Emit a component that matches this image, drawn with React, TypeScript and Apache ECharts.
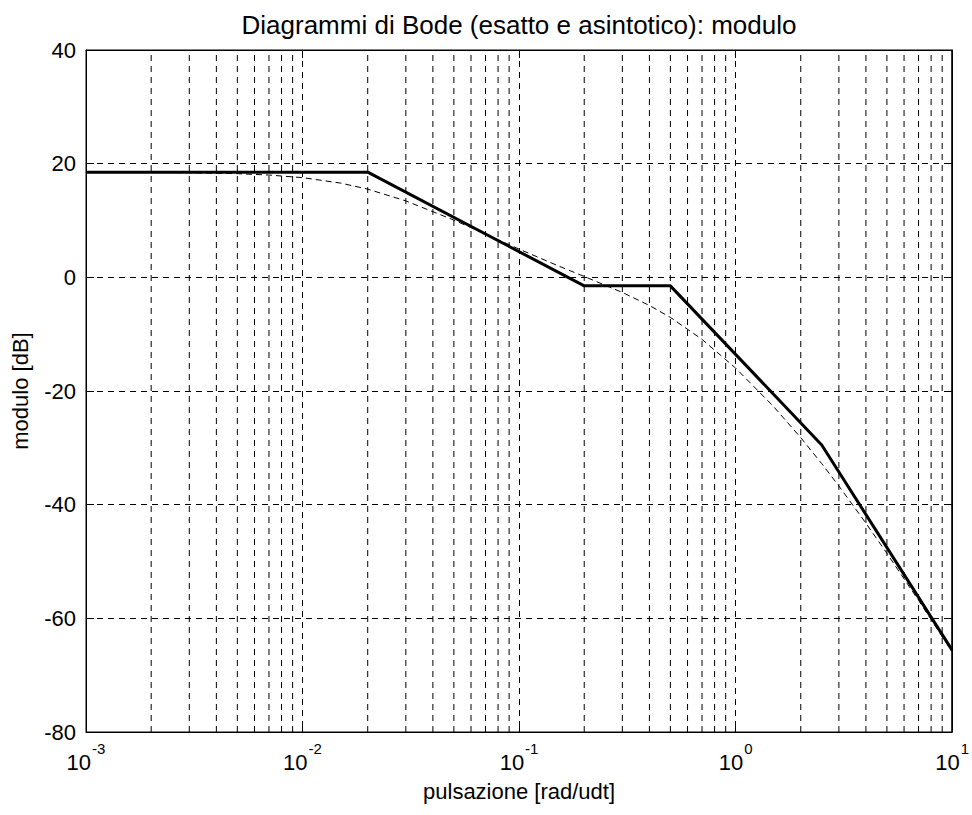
import React, { useEffect, useRef } from "react";
import * as echarts from "echarts";

const titleText = "Diagrammi di Bode (esatto e asintotico): modulo";
const xName = "pulsazione [rad/udt]";
const yName = "modulo [dB]";

const xTickExps = ["-3", "-2", "-1", "0", "1"];
const yTicks = [-80, -60, -40, -20, 0, 20, 40];
const xMin = 0.001;
const xMax = 10;

// asymptotic diagram (solid, thick)
const asymW = [0.001, 0.02, 0.2, 0.5, 2.5, 10];
const asymDb = [18.5, 18.5, -1.5, -1.5, -29.5, -65.6];

// exact diagram (dashed, thin)
const exactW = [0.001, 0.002, 0.003, 0.005, 0.007, 0.01, 0.015, 0.02, 0.03, 0.05, 0.07, 0.1, 0.15, 0.2, 0.3, 0.4, 0.5, 0.7, 1, 1.5, 2, 2.5, 3, 4, 5, 7, 10];
const exactDb = [18.49, 18.46, 18.4, 18.24, 18.0, 17.54, 16.58, 15.52, 13.45, 10.07, 7.61, 4.97, 2.1, 0.15, -2.66, -4.95, -7.05, -10.92, -15.96, -22.76, -28.21, -32.78, -36.72, -43.26, -48.57, -56.85, -65.87];

// minor vertical grid lines
const minorGridW = [
  0.002, 0.003, 0.004, 0.005, 0.006, 0.007, 0.008, 0.009,
  0.02, 0.03, 0.04, 0.05, 0.06, 0.07, 0.08, 0.09,
  0.2, 0.3, 0.4, 0.5, 0.6, 0.7, 0.8, 0.9,
  2, 3, 4, 5, 6, 7, 8, 9,
];

const FONT = "Liberation Sans";

export default function App() {
  const ref = useRef<HTMLDivElement>(null);
  useEffect(() => {
    if (!ref.current) return;
    const chart = echarts.init(ref.current, null, { renderer: "svg" });
    const dash = () => ({ type: [6, 5] as any, color: "#000", width: 1 });
    const expOf = (v: number) => {
      const e = Math.round(Math.log10(v));
      const idx = e + 3;
      return xTickExps[idx] !== undefined ? xTickExps[idx] : String(e);
    };
    const yMin = yTicks[0];
    const yMax = yTicks[yTicks.length - 1];
    const gridSeries = minorGridW.map((w) => ({
      type: "line",
      silent: true,
      data: [[w, yMin], [w, yMax]],
      showSymbol: false,
      symbol: "none",
      lineStyle: dash(),
      z: 1,
    }));
    const frameSeries = {
      type: "line",
      silent: true,
      clip: false,
      data: [[xMax, yMin], [xMax, yMax]],
      showSymbol: false,
      symbol: "none",
      lineStyle: { color: "#000", width: 1.5 },
      z: 5,
    };
    const axLine = { show: true, onZero: false, lineStyle: { color: "#000", width: 1 } };
    const axTick = { show: true, inside: true, length: 8, lineStyle: { color: "#000" } };
    chart.setOption({
      animation: false,
      backgroundColor: "#fff",
      title: {
        text: titleText,
        left: 514,
        top: 7,
        textAlign: "center",
        textStyle: { fontFamily: FONT, fontSize: 26, fontWeight: "normal", color: "#000" },
      },
      grid: {
        left: 86, top: 50, right: 18, bottom: 83, containLabel: false,
        show: true, borderColor: "#000", borderWidth: 1,
      },
      xAxis: [
        {
          type: "log",
          logBase: 10,
          min: xMin,
          max: xMax,
          position: "bottom",
          axisLine: axLine,
          axisTick: axTick,
          name: xName,
          nameLocation: "middle",
          nameGap: 48,
          nameTextStyle: { fontFamily: FONT, fontSize: 22, color: "#000" },
          splitLine: { show: true, lineStyle: dash() },
          axisLabel: {
            margin: 9,
            color: "#000",
            formatter: (v: number) => "{b|10}{s|" + expOf(v) + "}",
            rich: {
              b: { fontFamily: FONT, fontSize: 22, color: "#000", verticalAlign: "bottom", lineHeight: 32 },
              s: { fontFamily: FONT, fontSize: 15, color: "#000", verticalAlign: "top", lineHeight: 32, padding: [0, 0, 0, 1] },
            },
          },
        },
        {
          type: "log",
          logBase: 10,
          min: xMin,
          max: xMax,
          position: "top",
          axisLine: axLine,
          axisTick: axTick,
          axisLabel: { show: false },
          splitLine: { show: false },
        },
      ],
      yAxis: [
        {
          type: "value",
          min: yMin,
          max: yMax,
          interval: 20,
          position: "left",
          axisLine: axLine,
          axisTick: axTick,
          name: yName,
          nameLocation: "middle",
          nameGap: 55,
          nameTextStyle: { fontFamily: FONT, fontSize: 22, color: "#000" },
          splitLine: { show: true, lineStyle: dash() },
          axisLabel: { margin: 10, color: "#000", fontFamily: FONT, fontSize: 22 },
        },
        {
          type: "value",
          min: yMin,
          max: yMax,
          interval: 20,
          position: "right",
          axisLine: axLine,
          axisTick: axTick,
          axisLabel: { show: false },
          splitLine: { show: false },
        },
      ],
      series: [
        ...gridSeries,
        frameSeries,
        {
          type: "line",
          name: "esatto",
          data: exactW.map((w, i) => [w, exactDb[i]]),
          showSymbol: false,
          symbol: "none",
          lineStyle: { color: "#000", width: 1, type: [6, 4] },
          z: 3,
        },
        {
          type: "line",
          name: "asintotico",
          data: asymW.map((w, i) => [w, asymDb[i]]),
          showSymbol: false,
          symbol: "none",
          lineStyle: { color: "#000", width: 3 },
          z: 4,
        },
      ],
    });
    return () => chart.dispose();
  }, []);
  return (
    <div
      ref={ref}
      style={{ position: "fixed", left: 0, top: 0, width: 972, height: 815, background: "#fff" }}
    />
  );
}
